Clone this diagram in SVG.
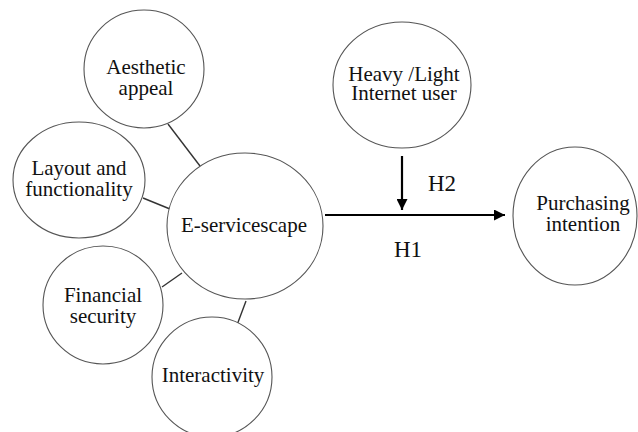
<svg xmlns="http://www.w3.org/2000/svg" width="638" height="432" viewBox="0 0 638 432">
<style>
.n{fill:#fff;stroke:#555;stroke-width:1.1}
.t{font-family:"Liberation Serif","Times New Roman",serif;font-size:21px;fill:#111;text-anchor:middle}
.h{font-family:"Liberation Serif","Times New Roman",serif;font-size:23px;fill:#111;text-anchor:middle}
.c{stroke:#333;stroke-width:1.4;fill:none}
.a{stroke:#000;stroke-width:2.2;fill:none}
</style>
<defs>
<marker id="ah" viewBox="0 0 10 10" refX="10" refY="5" markerWidth="5" markerHeight="5" markerUnits="strokeWidth" orient="auto">
<path d="M0,0 L10,5 L0,10 z" fill="#000"/>
</marker>
</defs>
<rect width="638" height="432" fill="#fff"/>
<g id="connectors">
<line class="c" x1="168" y1="124" x2="200" y2="166"/>
<line class="c" x1="143" y1="198" x2="170" y2="209"/>
<line class="c" x1="162" y1="287" x2="182" y2="273"/>
<line class="c" x1="246" y1="301" x2="237" y2="325"/>
<line class="a" x1="325" y1="215" x2="505" y2="215" marker-end="url(#ah)"/>
<line class="a" x1="402" y1="156" x2="402" y2="210" marker-end="url(#ah)"/>
<text class="h" x="442" y="191">H2</text>
<text class="h" x="408" y="257">H1</text>
</g>
<g id="aesthetic">
<ellipse class="n" cx="144" cy="69" rx="60" ry="59"/>
<text class="t" x="146" y="74">Aesthetic</text>
<text class="t" x="146" y="95">appeal</text>
</g>
<g id="layout">
<ellipse class="n" cx="79" cy="180" rx="66" ry="58"/>
<text class="t" x="79" y="175">Layout and</text>
<text class="t" x="79" y="196">functionality</text>
</g>
<g id="eservicescape">
<ellipse class="n" cx="245" cy="226" rx="78" ry="73"/>
<text class="t" x="244" y="232">E-servicescape</text>
</g>
<g id="financial">
<ellipse class="n" cx="103" cy="305" rx="60" ry="59"/>
<text class="t" x="103" y="302">Financial</text>
<text class="t" x="103" y="323">security</text>
</g>
<g id="interactivity">
<ellipse class="n" cx="212" cy="377" rx="60" ry="60"/>
<text class="t" x="213" y="382">Interactivity</text>
</g>
<g id="heavy">
<ellipse class="n" cx="402" cy="85" rx="69" ry="63"/>
<text class="t" x="404" y="81">Heavy /Light</text>
<text class="t" x="404" y="100">Internet user</text>
</g>
<g id="purchasing">
<ellipse class="n" cx="575" cy="216" rx="62" ry="69"/>
<text class="t" x="583" y="210">Purchasing</text>
<text class="t" x="583" y="231">intention</text>
</g>
</svg>
